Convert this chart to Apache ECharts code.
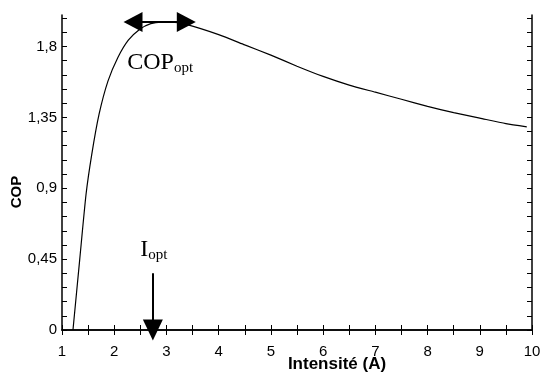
<!DOCTYPE html>
<html>
<head>
<meta charset="utf-8">
<script src="https://cdn.jsdelivr.net/npm/echarts@6/dist/echarts.min.js"></script>
<style>
  html, body { margin: 0; padding: 0; background: #fff; }
  #chart { width: 542px; height: 372px; }
</style>
</head>
<body>
<div id="chart"></div>
<script>
// courbe COP = f(I)
const intensite = [1.21, 1.34, 1.46, 1.57, 1.71, 1.88, 2.07, 2.27, 2.49, 2.7, 2.9, 3.1, 3.38, 4.0, 4.5, 5.0, 5.5, 6.0, 6.5, 7.0, 7.5, 8.0, 8.5, 9.0, 9.5, 9.9]
const cop = [0, 0.45, 0.86, 1.115, 1.37, 1.58, 1.73, 1.84, 1.91, 1.945, 1.955, 1.955, 1.94, 1.875, 1.81, 1.745, 1.675, 1.61, 1.555, 1.51, 1.465, 1.42, 1.38, 1.345, 1.31, 1.29]

const yLabels = [0, 0.45, 0.9, 1.35, 1.8]
const yTicks = [0, 0.09, 0.18, 0.27, 0.36, 0.45, 0.54, 0.63, 0.72, 0.81, 0.9, 0.99, 1.08, 1.17, 1.26, 1.35, 1.44, 1.53, 1.62, 1.71, 1.8, 1.89, 1.98]

// annotations (coordonnées en unités du graphe)
const copOptArrow = [[2.36, 1.955], [3.38, 1.955]]
const iOptArrow = [[2.74, 0.36], [2.74, 0]]
const copOptLabel = [2.88, 1.70]
const iOptLabel = [2.76, 0.51]

const chart = echarts.init(document.getElementById('chart'))

const fmt = (v) => String(v).replace('.', ',')
const tickStyle = { show: true, inside: true, length: 5, lineStyle: { color: '#000', width: 1 } }
const lineStyle = { show: true, lineStyle: { color: '#000', width: 1.5 } }
const titleFont = { fill: '#000', fontFamily: 'Liberation Sans', fontWeight: 'bold', align: 'center', verticalAlign: 'middle' }

const rich = {
  big: { fontFamily: 'Liberation Serif', fontSize: 24, color: '#000', lineHeight: 26 },
  sub: { fontFamily: 'Liberation Serif', fontSize: 15, color: '#000', lineHeight: 15, verticalAlign: 'bottom', padding: [12, 0, 0, 0] },
}

const option = {
  animation: false,
  grid: { left: 62, right: 10, top: 15, bottom: 42, containLabel: false, outerBoundsMode: 'none' },
  // titres des axes
  graphic: [
    { type: 'text', x: 337, y: 364, style: Object.assign({ text: 'Intensité (A)', fontSize: 17 }, titleFont) },
    { type: 'text', x: 17, y: 192, rotation: Math.PI / 2, style: Object.assign({ text: 'COP', fontSize: 15 }, titleFont) },
  ],
  xAxis: [
    {
      type: 'value', min: 1, max: 10, interval: 1, position: 'bottom',
      axisLine: lineStyle, axisTick: tickStyle,
      minorTick: { show: true, splitNumber: 2, length: 5, lineStyle: { color: '#000', width: 1 } },
      splitLine: { show: false },
      axisLabel: { color: '#000', fontFamily: 'Liberation Sans', fontSize: 15, margin: 14 },
    },
    {
      type: 'value', min: 1, max: 10, interval: 1, position: 'top',
      axisLine: lineStyle, axisTick: tickStyle,
      minorTick: { show: true, splitNumber: 2, length: 5, lineStyle: { color: '#000', width: 1 } },
      splitLine: { show: false }, axisLabel: { show: false },
    },
  ],
  yAxis: [
    {
      type: 'value', min: 0, max: 2.0, position: 'left',
      axisLine: lineStyle,
      axisTick: Object.assign({ customValues: yTicks }, tickStyle),
      splitLine: { show: false },
      axisLabel: { customValues: yLabels, formatter: fmt, color: '#000', fontFamily: 'Liberation Sans', fontSize: 15, margin: 5 },
    },
    {
      type: 'value', min: 0, max: 2.0, position: 'right',
      axisLine: lineStyle,
      axisTick: Object.assign({ customValues: yTicks }, tickStyle),
      splitLine: { show: false }, axisLabel: { show: false },
    },
  ],
  series: [
    {
      type: 'line',
      data: intensite.map((x, i) => [x, cop[i]]),
      smooth: 0.2,
      symbol: 'none',
      lineStyle: { color: '#000', width: 1.2 },
      markLine: {
        silent: true,
        label: { show: false },
        data: [
          [
            { coord: copOptArrow[0], symbol: 'triangle', symbolSize: [20, 19] },
            { coord: copOptArrow[1], symbol: 'triangle', symbolSize: [20, 19] },
          ],
          [
            { coord: iOptArrow[0], symbol: 'none' },
            { coord: iOptArrow[1], symbol: 'triangle', symbolSize: [20, 21] },
          ],
        ],
        lineStyle: { color: '#000', width: 2, type: 'solid' },
        itemStyle: { color: '#000' },
      },
      markPoint: {
        silent: true,
        symbol: 'circle', symbolSize: 0,
        label: { show: true, position: 'inside', rich },
        data: [
          { coord: copOptLabel, label: { formatter: '{big|COP}{sub|opt}' } },
          { coord: iOptLabel, label: { formatter: '{big|I}{sub|opt}' } },
        ],
      },
    },
  ],
}

chart.setOption(option)
</script>
</body>
</html>
